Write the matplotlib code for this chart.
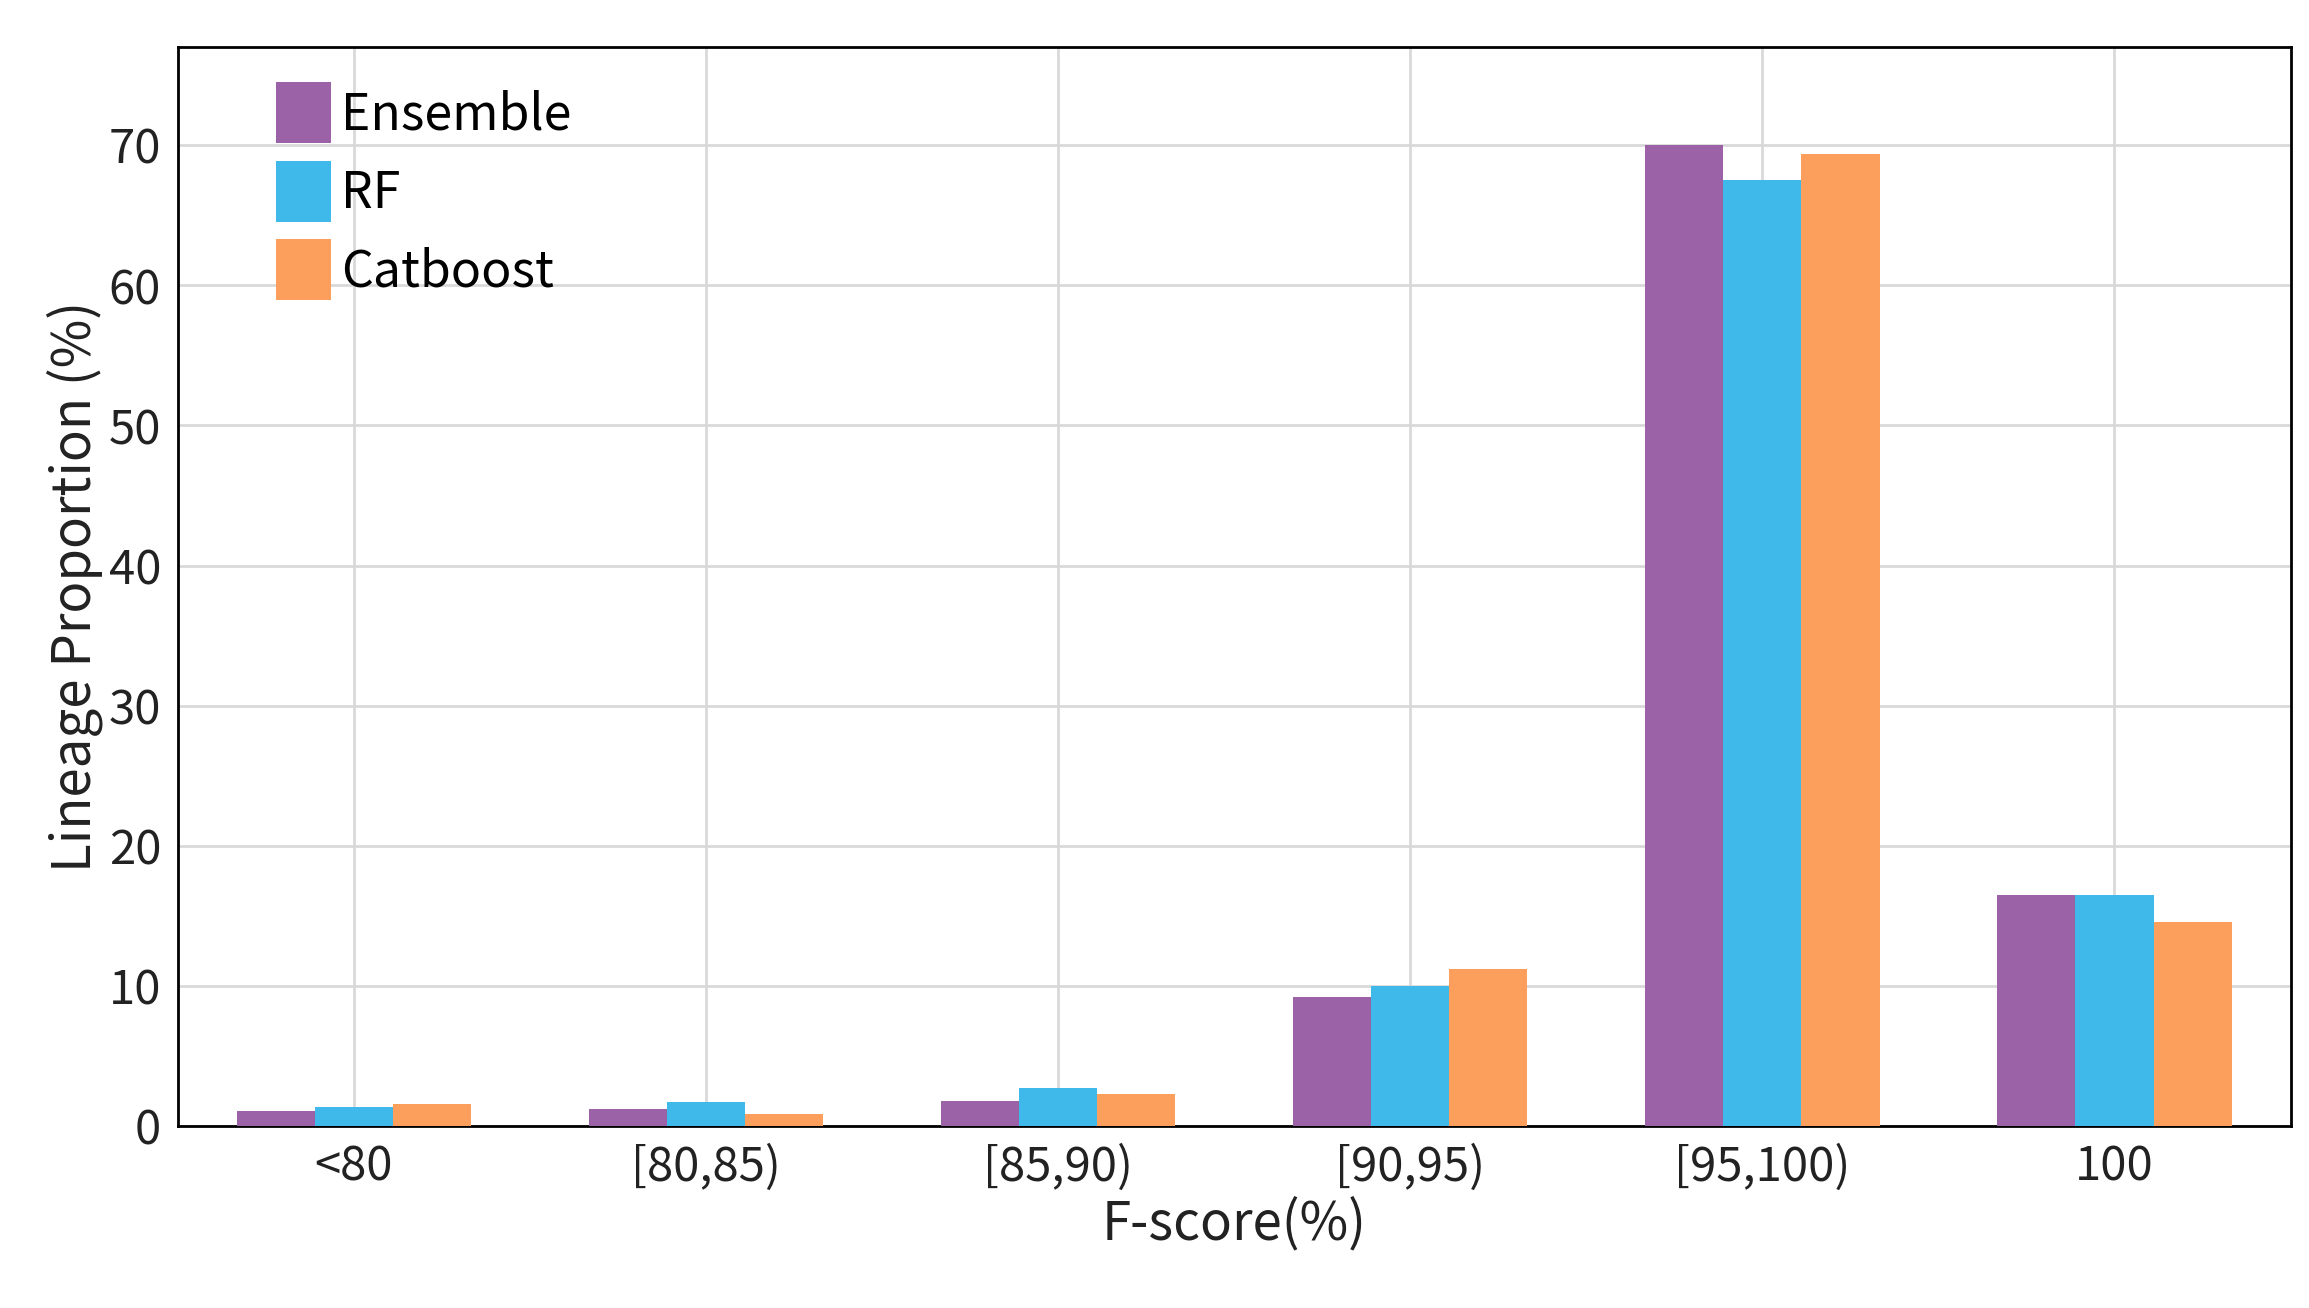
import matplotlib
matplotlib.use("Agg")
import matplotlib.pyplot as plt
import numpy as np

plt.rcParams['font.family'] = ['Noto Sans CJK JP', 'DejaVu Sans']

categories = ['<80', '[80,85)', '[85,90)', '[90,95)', '[95,100)', '100']
ensemble = [1.05, 1.25, 1.8, 9.2, 70.0, 16.5]
rf = [1.4, 1.7, 2.75, 10.0, 67.5, 16.5]
catboost = [1.6, 0.85, 2.3, 11.2, 69.4, 14.6]
series = [('Ensemble', ensemble, '#9b62a8'), ('RF', rf, '#3fb9ea'), ('Catboost', catboost, '#fd9f5c')]

fig = plt.figure(figsize=(23.09, 13.08), dpi=100)
ax = fig.add_axes([0.077, 0.139, 0.915, 0.825])
x = np.arange(len(categories))
w = 0.222
for i, (name, vals, c) in enumerate(series):
    ax.bar(x + (i - 1) * w, vals, w, color=c, label=name, zorder=3)

ax.set_xlim(-0.5, 5.5)
ax.set_ylim(0, 77)
ax.set_yticks(range(0, 71, 10))
ax.set_xticks(x)
ax.set_xticklabels(categories)
ax.grid(True, color='#d9d9d9', linewidth=2, zorder=0)
ax.tick_params(labelsize=34, length=0, pad=12, colors='#222222')
for s in ax.spines.values():
    s.set_linewidth(2)
ax.set_xlabel('F-score(%)', fontsize=38, color='#222222')
ax.set_ylabel('Lineage Proportion (%)', fontsize=38, color='#222222')
ax.legend(loc='upper left', fontsize=36, frameon=False, handlelength=1.1, handleheight=1.5,
          handletextpad=0.2, labelspacing=0.35, borderaxespad=0.3, bbox_to_anchor=(0.03, 1.0))
fig.savefig('out.png', dpi=100)
